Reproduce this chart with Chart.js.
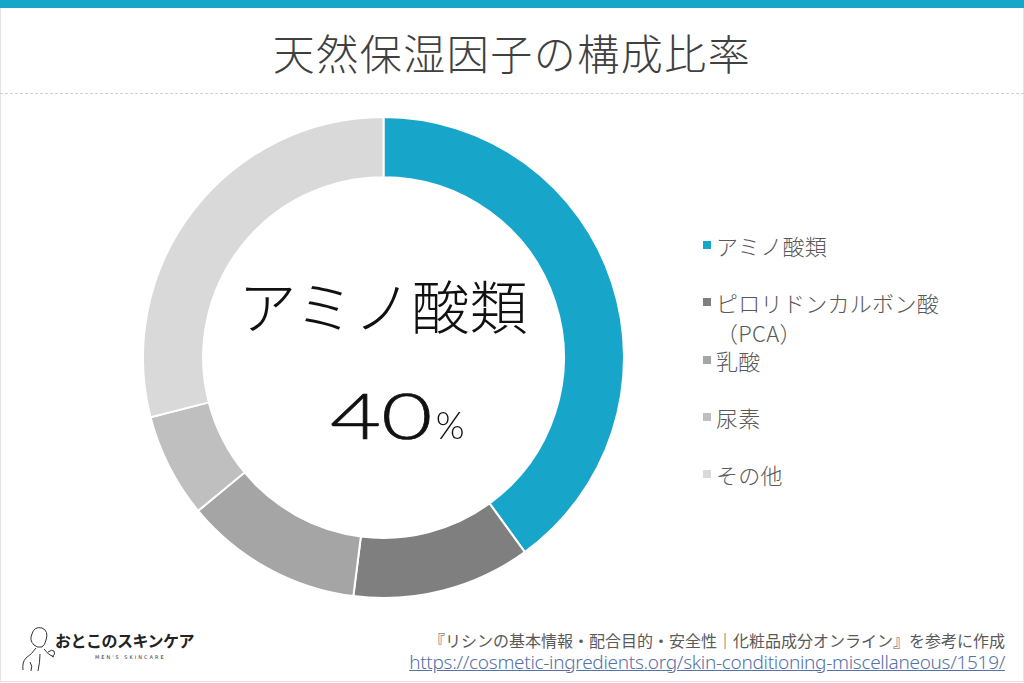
<!DOCTYPE html>
<html lang="ja">
<head>
<meta charset="utf-8">
<script src="https://cdn.jsdelivr.net/npm/chart.js@4.4.0/dist/chart.umd.min.js"></script>
<style>
  html,body{margin:0;padding:0;background:#fff;}
  body{width:1024px;height:683px;position:relative;overflow:hidden;font-family:"Noto Sans CJK JP","Noto Sans",sans-serif;}
  #frame{position:absolute;left:0;top:8px;width:1022px;height:673px;border:1px solid #e4e4e4;border-top:none;}
  #topbar{position:absolute;left:0;top:0;width:1024px;height:8px;background:#17a6ca;}
  #title{position:absolute;left:0;top:22px;width:1024px;text-align:center;font-size:42px;line-height:60px;color:#404040;font-weight:300;letter-spacing:1.5px;}
  #dash{position:absolute;left:0;top:93px;width:1024px;border-top:1px dashed #d0d0d0;}
  #chartBox{position:absolute;left:142px;top:116px;width:483px;height:483px;}
  #center1{position:absolute;left:183px;top:266px;width:400px;text-align:center;font-size:58px;line-height:76px;color:#111;font-weight:300;}
  #center2{position:absolute;left:197px;top:380px;width:400px;text-align:center;color:#111;font-family:"Lato","Noto Sans",sans-serif;font-weight:300;line-height:70px;}
  #center2 .num{font-size:63px;display:inline-block;transform:scaleX(1.4);transform-origin:left center;margin-right:27px;-webkit-text-stroke:0.6px #111;}
  #center2 .pct{font-size:37px;margin-left:6px;font-weight:300;}
  #legend{position:absolute;left:703px;top:230px;}
  .li{position:relative;height:57.3px;}
  .sw{position:absolute;left:0;top:11px;width:8px;height:8px;}
  .lt{position:absolute;left:13px;top:0;white-space:pre;font-size:22px;line-height:30px;color:#595959;font-weight:300;letter-spacing:0.3px;}
  #src1{position:absolute;right:19px;top:628px;font-size:16px;line-height:24px;color:#595959;white-space:nowrap;letter-spacing:0px;}
  #src2{position:absolute;right:19px;top:650px;font-size:19px;line-height:24px;color:#5671a6;white-space:nowrap;text-decoration:underline;font-family:"Noto Sans",sans-serif;font-weight:300;letter-spacing:-0.3px;}
  #logo{position:absolute;left:18px;top:622px;width:190px;height:50px;}
  #logoText{position:absolute;left:55px;top:628px;font-size:16px;font-weight:700;color:#222;letter-spacing:-0.5px;}
  #logoSub{position:absolute;left:95px;top:654px;font-size:5px;color:#333;letter-spacing:2px;font-family:"DejaVu Sans",sans-serif;}
</style>
</head>
<body>
<div id="topbar"></div>
<div id="frame"></div>
<div id="title">天然保湿因子の構成比率</div>
<div id="dash"></div>
<div id="chartBox"><canvas id="c"></canvas></div>
<div id="center1"></div>
<div id="center2"><span class="num"></span><span class="pct">%</span></div>
<div id="legend"></div>
<div id="src1">『リシンの基本情報・配合目的・安全性｜化粧品成分オンライン』を参考に作成</div>
<div id="src2">https://cosmetic-ingredients.org/skin-conditioning-miscellaneous/1519/</div>
<svg id="logo" viewBox="0 0 190 50">
  <g fill="none" stroke="#333" stroke-width="1">
    <path d="M14 12 q2 -8 10 -6 q7 3 4 12 q-1 5 -4 7 M14 12 q-3 6 2 11 q3 3 8 2 M18 26 q-4 6 -10 10 q-4 4 -3 12 M26 27 q4 6 10 8 M12 40 q3 4 1 9 M22 32 q0 8 -2 17 M30 30 q4 -3 6 -1 q2 3 -2 6"/>
  </g>
</svg>
<div id="logoText">おとこのスキンケア</div>
<div id="logoSub">MEN'S SKINCARE</div>
<script>
const categories = ["アミノ酸類", "ピロリドンカルボン酸\n（PCA）", "乳酸", "尿素", "その他"];
const values = [40, 12, 12, 7, 29];
const colors = ["#17a6ca", "#7f7f7f", "#a5a5a5", "#bfbfbf", "#d9d9d9"];

new Chart(document.getElementById("c"), {
  type: "doughnut",
  data: {
    labels: categories,
    datasets: [{
      data: values,
      backgroundColor: colors,
      borderColor: "#ffffff",
      borderWidth: 2
    }]
  },
  options: {
    responsive: true,
    maintainAspectRatio: false,
    animation: false,
    cutout: "75%",
    layout: { padding: 0 },
    plugins: { legend: { display: false }, tooltip: { enabled: false } }
  }
});

document.getElementById("center1").textContent = categories[0];
document.querySelector("#center2 .num").textContent = values[0];

const lg = document.getElementById("legend");
categories.forEach((lab, i) => {
  const d = document.createElement("div");
  d.className = "li";
  d.innerHTML = '<div class="sw" style="background:' + colors[i] + '"></div><div class="lt"></div>';
  d.querySelector(".lt").textContent = lab;
  lg.appendChild(d);
});
</script>
</body>
</html>
